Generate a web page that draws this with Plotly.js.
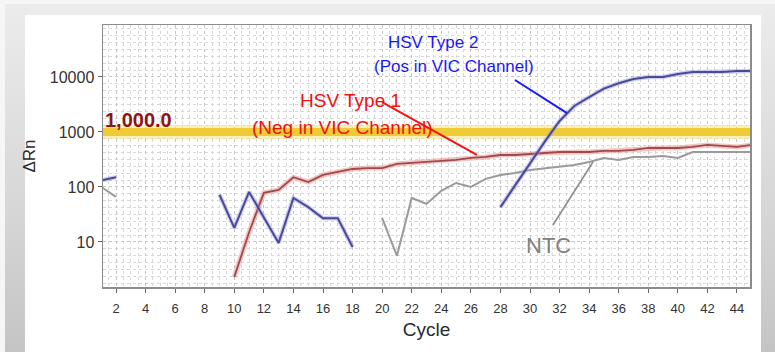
<!DOCTYPE html>
<html>
<head>
<meta charset="utf-8">
<script src="https://cdn.plot.ly/plotly-3.0.1.min.js"></script>
<style>
  html, body { margin: 0; padding: 0; background: #ffffff; }
  #wrap { position: relative; width: 775px; height: 352px; overflow: hidden; background: #f6f6f6; }
  #frame { position: absolute; left: 5px; top: 4px; right: 0; bottom: 0;
           background: linear-gradient(to bottom, #ececec 0%, #d6d6d6 60%, #c4c4c4 100%); }
  #chart { position: absolute; left: 0; top: 0; width: 775px; height: 352px; }
</style>
</head>
<body>
<div id="wrap"><div id="frame"></div><div id="chart"></div></div>
<script>
// ---- data ----
const cycles = [1,2,3,4,5,6,7,8,9,10,11,12,13,14,15,16,17,18,19,20,21,22,23,24,25,26,27,28,29,30,31,32,33,34,35,36,37,38,39,40,41,42,43,44,45];

// HSV Type 2 (blue)
const hsvType2 = [132,150,null,null,null,null,null,null,72,18,81,28,9.6,63,43,27,27,8.1,
  null,null,null,null,null,null,null,null,null,
  43,109,277,667,1585,2970,4300,6150,7680,9200,10000,10000,11300,12300,12300,12300,12800,12800];

// HSV Type 1 (red)
const hsvType1 = [null,null,null,null,null,null,null,null,null,2.3,15,78,88,150,123,165,187,212,220,220,
  262,273,285,297,310,337,351,381,381,397,415,432,432,432,451,451,470,511,511,511,533,580,556,533,580];

// NTC (gray)
const ntc = [100,66,null,null,null,null,null,null,null,null,null,null,null,null,null,null,null,null,null,
  27,5.6,63,49,85,118,100,140,165,180,204,220,230,251,285,337,310,351,351,366,337,432,432,432,432,432];

// threshold
const thresholdCycles = [1.1, 45];
const thresholdValue = [1000, 1000];
const thresholdLabel = '1,000.0';

// ticks
const xTicks = [2,4,6,8,10,12,14,16,18,20,22,24,26,28,30,32,34,36,38,40,42,44];
const yTicks = [10,100,1000,10000];
const yTickText = ['10','100','1000','10000'];

// ---- plot ----
const traces = [
  {x: thresholdCycles, y: thresholdValue, mode: 'lines', line: {color: 'rgba(246,228,130,0.55)', width: 14}, hoverinfo: 'skip'},
  {x: thresholdCycles, y: thresholdValue, mode: 'lines', line: {color: 'rgba(238,200,45,0.95)', width: 8}, hoverinfo: 'skip'},
  {x: cycles, y: ntc, mode: 'lines', line: {color: '#9a9a9a', width: 2}, connectgaps: false, hoverinfo: 'skip'},
  {x: cycles, y: hsvType1, mode: 'lines', line: {color: 'rgba(235,160,160,0.6)', width: 5}, connectgaps: false, hoverinfo: 'skip'},
  {x: cycles, y: hsvType1, mode: 'lines', line: {color: '#a04a4a', width: 1.8}, connectgaps: false, hoverinfo: 'skip'},
  {x: cycles, y: hsvType2, mode: 'lines', line: {color: 'rgba(150,150,235,0.45)', width: 4.5}, connectgaps: false, hoverinfo: 'skip'},
  {x: cycles, y: hsvType2, mode: 'lines', line: {color: '#4a4a96', width: 2}, connectgaps: false, hoverinfo: 'skip'}
];

const tickFont = {family: '"Liberation Sans", Arial, sans-serif', color: '#333'};

const layout = {
  width: 775, height: 352,
  margin: {l: 103, r: 25, t: 25, b: 65, pad: 0},
  paper_bgcolor: 'rgba(0,0,0,0)',
  plot_bgcolor: '#ffffff',
  showlegend: false,
  font: {family: '"Liberation Sans", Arial, sans-serif'},
  xaxis: {
    range: [1.12, 44.88],
    tickvals: xTicks,
    ticks: 'outside', ticklen: 4, tickcolor: '#666', tickwidth: 1,
    ticklabelstandoff: 5,
    tickfont: Object.assign({size: 13}, tickFont),
    showline: true, linecolor: '#8c8c8c', linewidth: 1.5, mirror: true,
    showgrid: true, gridcolor: '#c4c4c4', griddash: 'dot', gridwidth: 1,
    minor: {dtick: 0.5, tick0: 0, showgrid: true, gridcolor: '#d8d8d8', griddash: 'dot', gridwidth: 1},
    zeroline: false,
    title: {text: 'Cycle', font: {size: 19, color: '#2a2a2a'}, standoff: 7}
  },
  yaxis: {
    type: 'log',
    range: [0.18, 4.945],
    tickvals: yTicks, ticktext: yTickText,
    ticks: 'outside', ticklen: 4, tickcolor: '#666', tickwidth: 1,
    tickfont: Object.assign({size: 16}, tickFont),
    showline: true, linecolor: '#8c8c8c', linewidth: 1.5, mirror: true,
    showgrid: true, gridcolor: '#c4c4c4', griddash: 'dot', gridwidth: 1,
    minor: {dtick: 0.125, showgrid: true, gridcolor: '#d8d8d8', griddash: 'dot', gridwidth: 1},
    zeroline: false,
    title: {text: 'ΔRn', font: {size: 17, color: '#2a2a2a'}, standoff: 10}
  },
  shapes: [
    {type: 'rect', layer: 'below', xref: 'paper', yref: 'paper', x0: -0.1206, x1: 1.017, y0: -0.26, y1: 1.0382,
     fillcolor: '#ffffff', line: {width: 0}},
    {type: 'line', xref: 'paper', yref: 'paper', x0: 0.6368, y0: 0.790, x1: 0.7172, y1: 0.664, line: {color: '#1a1af5', width: 2}},
    {type: 'line', xref: 'paper', yref: 'paper', x0: 0.4312, y0: 0.706, x1: 0.578, y1: 0.504, line: {color: '#f01414', width: 2}},
    {type: 'line', xref: 'paper', yref: 'paper', x0: 0.6955, y0: 0.2366, x1: 0.7573, y1: 0.477, line: {color: '#8a8a8a', width: 1.5}}
  ],
  annotations: [
    {text: 'HSV Type 2', xref: 'paper', yref: 'paper', x: 0.510, y: 0.935, xanchor: 'center', yanchor: 'middle', showarrow: false,
     font: {size: 17, color: '#1a1af0'}},
    {text: '(Pos in VIC Channel)', xref: 'paper', yref: 'paper', x: 0.5425, y: 0.8435, xanchor: 'center', yanchor: 'middle', showarrow: false,
     font: {size: 17, color: '#1a1af0'}},
    {text: 'HSV Type 1', xref: 'paper', yref: 'paper', x: 0.3833, y: 0.7137, xanchor: 'center', yanchor: 'middle', showarrow: false,
     font: {size: 19, color: '#f01010'}},
    {text: '(Neg in VIC Channel)', xref: 'paper', yref: 'paper', x: 0.3694, y: 0.6069, xanchor: 'center', yanchor: 'middle', showarrow: false,
     font: {size: 19, color: '#f01010'}},
    {text: 'NTC', xref: 'paper', yref: 'paper', x: 0.6893, y: 0.160, xanchor: 'center', yanchor: 'middle', showarrow: false,
     font: {size: 22, color: '#808080'}},
    {text: '<b>' + thresholdLabel + '</b>', xref: 'paper', yref: 'paper', x: 0.0, xanchor: 'left', y: 0.637, yanchor: 'middle', showarrow: false,
     font: {size: 20, color: '#8c1414'}}
  ]
};

Plotly.newPlot('chart', traces, layout, {staticPlot: true, displayModeBar: false});
</script>
</body>
</html>
